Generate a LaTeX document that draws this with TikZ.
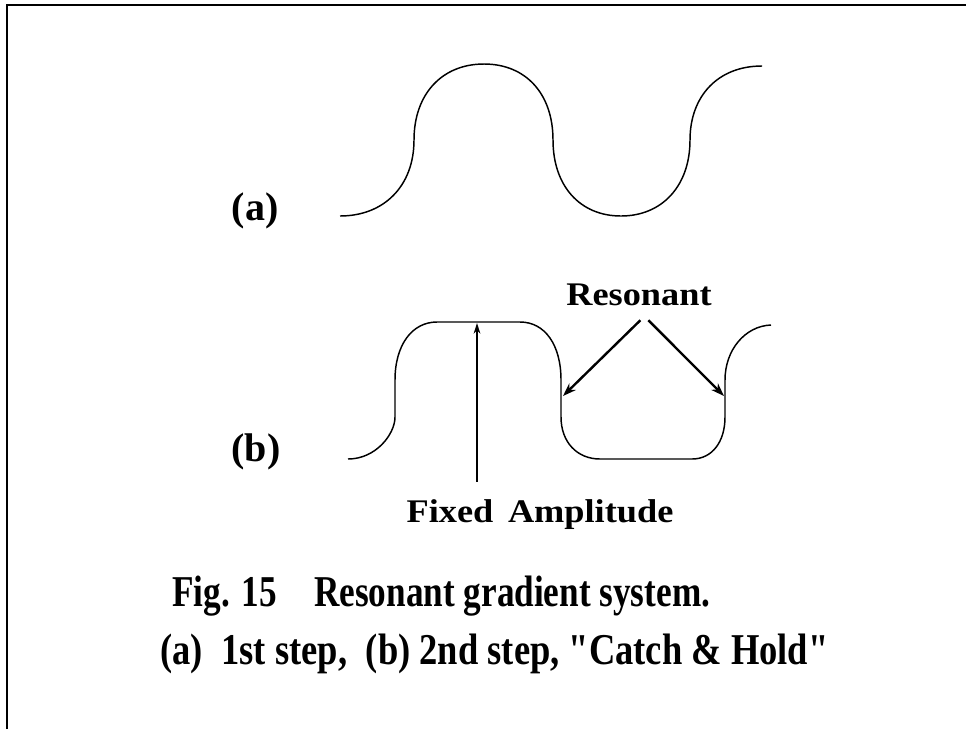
\documentclass[tikz,border=0pt]{standalone}
\usepackage{fontspec}
\setmainfont{Liberation Serif}
\newfontfamily\capfont[FakeStretch=0.8]{Liberation Serif}
\newfontfamily\capwidefont[FakeStretch=0.83]{Liberation Serif}
\newfontfamily\lblfont[FakeStretch=1.1]{Liberation Serif}
\usetikzlibrary{arrows.meta}

\begin{document}
\begin{tikzpicture}[x=0.75pt, y=-0.75pt,
        wave/.style={line width=1.1pt, line join=round},
        frame/.style={line width=1.5pt},
        resarrow/.style={line width=1.8pt, -{Stealth[length=10pt,width=7pt]}},
        famparrow/.style={line width=1.3pt, -{Stealth[length=8pt,width=5pt]}},
        partlbl/.style={font=\bfseries\fontsize{30}{36}\selectfont, inner sep=0pt},
        sidelbl/.style={font=\lblfont\bfseries\fontsize{24.75}{30}\selectfont, inner sep=0pt},
        caption/.style={font=\capfont\bfseries\fontsize{33}{40}\selectfont, inner sep=0pt, anchor=base west}]
      \useasboundingbox (0,0) rectangle (966,729);
      \draw[frame] (7,729) -- (7,5) -- (966,5);
      \draw[wave] (340,216) .. controls (384,216) and (414,186) .. (414,140)
            .. controls (414,94) and (442,64) .. (484,64)
            .. controls (526,64) and (553,94) .. (553,140)
            .. controls (553,186) and (580,216) .. (621,216)
            .. controls (662,216) and (690,186) .. (690,140)
            .. controls (690,96) and (718,66) .. (762,66);
      \node[partlbl] (lbla) at (255,211) {(a)};
      \draw[wave] (348,459) .. controls (376,459) and (395,434) .. (395,417)
            -- (395,380) .. controls (395,345) and (412,322) .. (437,322)
            -- (520,322) .. controls (545,322) and (561,345) .. (561,380)
            -- (561,417) .. controls (561,442) and (577,459) .. (600,459)
            -- (692,459) .. controls (712,459) and (725,442) .. (725,417)
            -- (725,380) .. controls (725,350) and (745,326) .. (771,325);
      \node[partlbl] (lblb) at (256,452) {(b)};
      \coordinate (fatop) at (477,323);
      \coordinate (rtipl) at (563,396);
      \coordinate (rtipr) at (724,396);
      \node[sidelbl, anchor=base] (reso) at (639,305) {Resonant};
      \draw[resarrow] ([xshift=1pt,yshift=-11pt]reso.south) -- (rtipl);
      \draw[resarrow] ([xshift=7pt,yshift=-11pt]reso.south) -- (rtipr);
      \node[sidelbl, anchor=base] (famp) at (540,522) {Fixed\hspace{11pt}Amplitude};
      \draw[famparrow, shorten <=13pt] (fatop |- famp.north) -- (fatop);
      \node[caption] (cap1) at (172,606) {Fig. 15\hspace{28pt}Resonant gradient system.};
      \node[caption, font=\capwidefont\bfseries\fontsize{33}{40}\selectfont] (cap2) at (160,664)
            {(a)\hspace{14pt}1st step,\hspace{14pt}(b) 2nd step, "Catch \& Hold"};
    \end{tikzpicture}
\end{document}
